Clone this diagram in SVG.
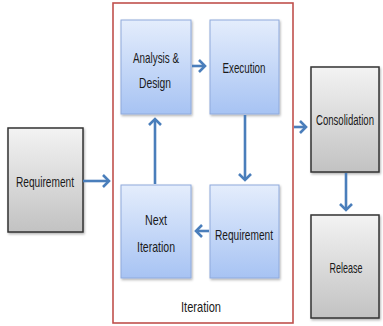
<svg xmlns="http://www.w3.org/2000/svg" width="383" height="326" viewBox="0 0 383 326">
  <defs>
    <linearGradient id="blueFill" x1="0" y1="0" x2="0" y2="1">
      <stop offset="0" stop-color="#e4edfc"/>
      <stop offset="1" stop-color="#a7c3f3"/>
    </linearGradient>
    <linearGradient id="grayFill" x1="0" y1="0" x2="0" y2="1">
      <stop offset="0" stop-color="#f3f3f3"/>
      <stop offset="1" stop-color="#c2c2c2"/>
    </linearGradient>
    <filter id="shadow" x="-10%" y="-10%" width="130%" height="130%">
      <feDropShadow dx="1" dy="1.5" stdDeviation="0.8" flood-color="#000" flood-opacity="0.3"/>
    </filter>
    <marker id="head" markerUnits="userSpaceOnUse" markerWidth="14" markerHeight="16" refX="7" refY="7" orient="auto">
      <path d="M1,1 L7,7 L1,13" fill="none" stroke="#4a7ebb" stroke-width="2.6" stroke-linejoin="miter"/>
    </marker>
  </defs>
  <style>
    .blue { fill: url(#blueFill); stroke: #8faadc; stroke-width: 1; filter: url(#shadow); }
    .gray { fill: url(#grayFill); stroke: #333; stroke-width: 1.5; filter: url(#shadow); }
    .frame { fill: #fff; stroke: #c0504d; stroke-width: 1.6; }
    .label { font-family: "Liberation Sans", Arial, sans-serif; font-size: 14.5px; fill: #1a1a1a; text-anchor: middle; }
    .arrow { fill: none; stroke: #4a7ebb; stroke-width: 2.6; marker-end: url(#head); }
  </style>

  <!-- iteration container -->
  <g id="iteration">
    <rect class="frame" x="113" y="3" width="180" height="320"/>
    <text class="label" x="201" y="312" textLength="40" lengthAdjust="spacingAndGlyphs">Iteration</text>
  </g>

  <g id="requirement-input">
    <rect class="gray" x="8" y="128" width="75" height="104"/>
    <text class="label" x="45" y="187" textLength="58" lengthAdjust="spacingAndGlyphs">Requirement</text>
  </g>

  <g id="analysis-design">
    <rect class="blue" x="121" y="20" width="70" height="94"/>
    <text class="label" x="156" y="63" textLength="46" lengthAdjust="spacingAndGlyphs">Analysis &amp;</text>
    <text class="label" x="155" y="88" textLength="32" lengthAdjust="spacingAndGlyphs">Design</text>
  </g>

  <g id="execution">
    <rect class="blue" x="210" y="20" width="69" height="94"/>
    <text class="label" x="244" y="73" textLength="43" lengthAdjust="spacingAndGlyphs">Execution</text>
  </g>

  <g id="requirement-inner">
    <rect class="blue" x="210" y="185" width="69" height="93"/>
    <text class="label" x="244" y="240" textLength="58" lengthAdjust="spacingAndGlyphs">Requirement</text>
  </g>

  <g id="next-iteration">
    <rect class="blue" x="121" y="185" width="70" height="93"/>
    <text class="label" x="156" y="225" textLength="22" lengthAdjust="spacingAndGlyphs">Next</text>
    <text class="label" x="156" y="252" textLength="38" lengthAdjust="spacingAndGlyphs">Iteration</text>
  </g>

  <g id="consolidation">
    <rect class="gray" x="311" y="67" width="68" height="105"/>
    <!-- horizontally condensed so the long word sits inside the box -->
    <text class="label" transform="translate(345 125) scale(0.66 1)">Consolidation</text>
  </g>

  <g id="release">
    <rect class="gray" x="311" y="215" width="68" height="103"/>
    <text class="label" x="346" y="273" textLength="33" lengthAdjust="spacingAndGlyphs">Release</text>
  </g>

  <!-- connectors -->
  <g id="connectors">
    <line class="arrow" x1="83" y1="181" x2="109" y2="181"/>
    <line class="arrow" x1="192" y1="66" x2="205" y2="66"/>
    <line class="arrow" x1="245" y1="115" x2="245" y2="180"/>
    <line class="arrow" x1="209" y1="231" x2="196" y2="231"/>
    <line class="arrow" x1="155" y1="184" x2="155" y2="119"/>
    <line class="arrow" x1="294" y1="127" x2="306" y2="127"/>
    <line class="arrow" x1="346" y1="173" x2="346" y2="210"/>
  </g>
</svg>
